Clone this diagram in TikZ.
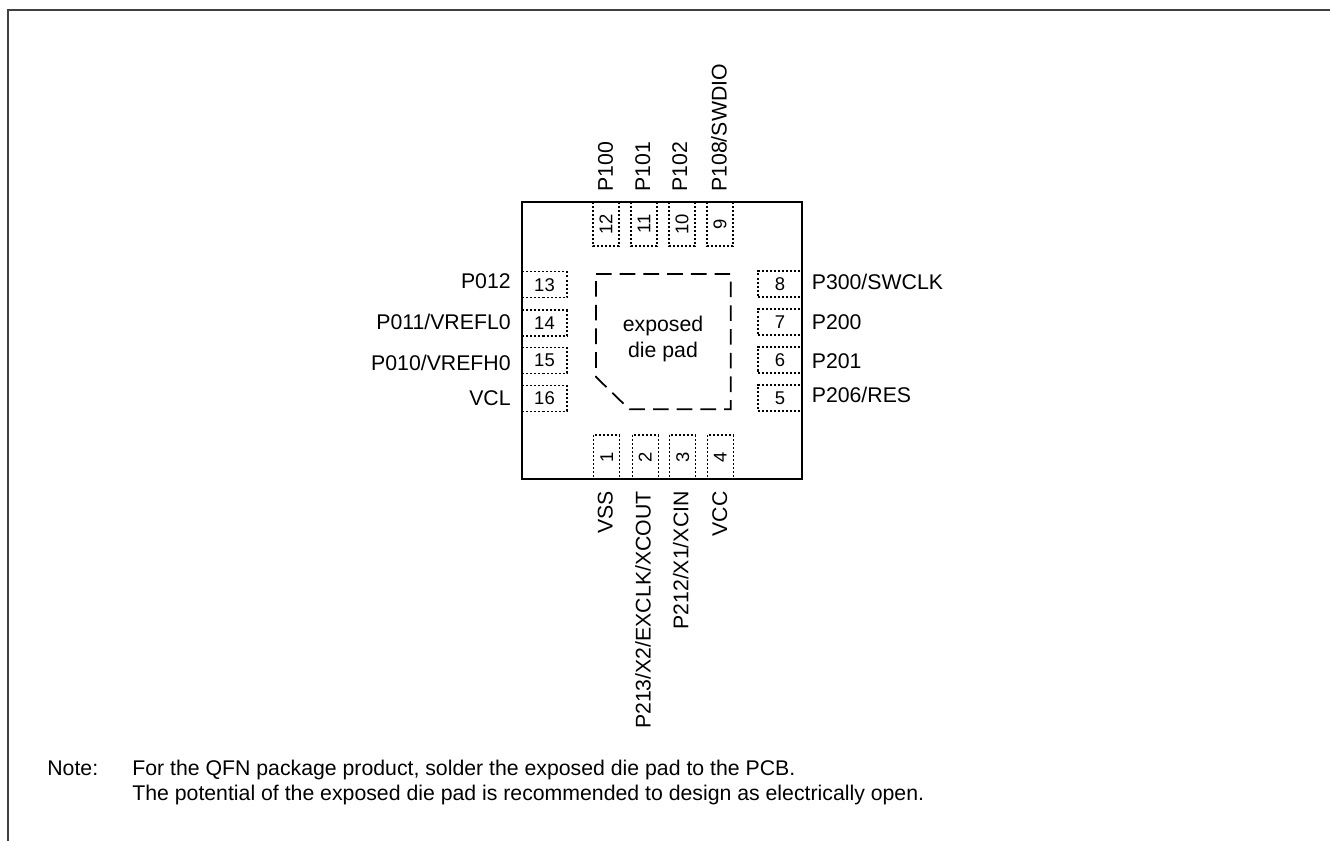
\documentclass[tikz,border=0pt]{standalone}
\usepackage{fontspec}
\setmainfont{Liberation Sans}
\usepackage{tikz}
\usetikzlibrary{positioning}
\tikzstyle{pinbox} = [draw, line width=0.9pt, dash pattern=on 1.15pt off 1.15pt, inner sep=0pt, font=\fontsize{10.5}{12}\selectfont]
\tikzstyle{padh} = [pinbox, minimum width=25.3pt, minimum height=14.8pt]
\tikzstyle{padt} = [pinbox, minimum width=25.3pt, minimum height=14.8pt, rotate=90]
\tikzstyle{pinlabel} = [inner sep=0pt, font=\fontsize{12.1}{14.7}\selectfont]
\tikzstyle{notetext} = [pinlabel, anchor=base west]
\begin{document}
\begin{tikzpicture}[x=0.02cm,y=-0.02cm]
    \useasboundingbox (0,0) rectangle (1330,841);
    \draw[line width=0.9pt,black!75] (8,841) -- (8,10) -- (1330,10);
    % package outline
    \draw[line width=0.95pt] (522.3,202) rectangle (802.3,479);
    \draw[line width=1pt, dash pattern=on 8.9pt off 4.6pt] (596,274) -- (730.7,274) -- (730.7,409.3) -- (629.3,409.3) -- (596,377) -- cycle;
    \node[pinlabel, align=center] (pad) at (663,339) {exposed\\die pad};
    % top side
    \node[padt] (p12) at (606,224) {12};
    \node[padt] (p11) at (644,224) {11};
    \node[padt] (p10) at (682,224) {10};
    \node[padt] (p9) at (720,224) {9};
    \node[pinlabel, rotate=90, anchor=base west] (l12) at (612.8,192) {P100};
    \node[pinlabel, rotate=90, anchor=base west] (l11) at (650,192) {P101};
    \node[pinlabel, rotate=90, anchor=base west] (l10) at (687,192) {P102};
    \node[pinlabel, rotate=90, anchor=base west] (l9) at (726.5,192) {P108/SWDIO};
    % bottom side
    \node[padt] (p1) at (606.7,457) {1};
    \node[padt] (p2) at (645.3,457) {2};
    \node[padt] (p3) at (682.7,457) {3};
    \node[padt] (p4) at (720.3,457) {4};
    \node[pinlabel, rotate=90, anchor=base east] (l1) at (612.5,491) {VSS};
    \node[pinlabel, rotate=90, anchor=base east] (l2) at (650.5,491) {P213/X2/EXCLK/XCOUT};
    \node[pinlabel, rotate=90, anchor=base east] (l3) at (688.3,491) {P212/X1/XCIN};
    \node[pinlabel, rotate=90, anchor=base east] (l4) at (727,491) {VCC};
    % left side
    \node[padh] (p13) at (544.5,284.7) {13};
    \node[padh] (p14) at (544.5,322.8) {14};
    \node[padh] (p15) at (544.5,360.5) {15};
    \node[padh] (p16) at (544.5,398.3) {16};
    \node[pinlabel, anchor=base east] (l13) at (511,289) {P012};
    \node[pinlabel, anchor=base east] (l14) at (511,329.7) {P011/VREFL0};
    \node[pinlabel, anchor=base east] (l15) at (511,370.5) {P010/VREFH0};
    \node[pinlabel, anchor=base east] (l16) at (511,405.7) {VCL};
    % right side
    \node[padh] (p8) at (780,284.2) {8};
    \node[padh] (p7) at (780,322.2) {7};
    \node[padh] (p6) at (780,360) {6};
    \node[padh] (p5) at (780,397.9) {5};
    \node[pinlabel, anchor=base west] (l8) at (811.5,289.5) {P300/SWCLK};
    \node[pinlabel, anchor=base west] (l7) at (811.5,330) {P200};
    \node[pinlabel, anchor=base west] (l6) at (811.5,369) {P201};
    \node[pinlabel, anchor=base west] (l5) at (811.5,402.7) {P206/RES};
    % note
    \node[notetext] (note) at (47,775.7) {Note:};
    \node[notetext] (note1) at (132,775.7) {For the QFN package product, solder the exposed die pad to the PCB.};
    \node[notetext] (note2) at (132,800.7) {The potential of the exposed die pad is recommended to design as electrically open.};
\end{tikzpicture}
\end{document}
